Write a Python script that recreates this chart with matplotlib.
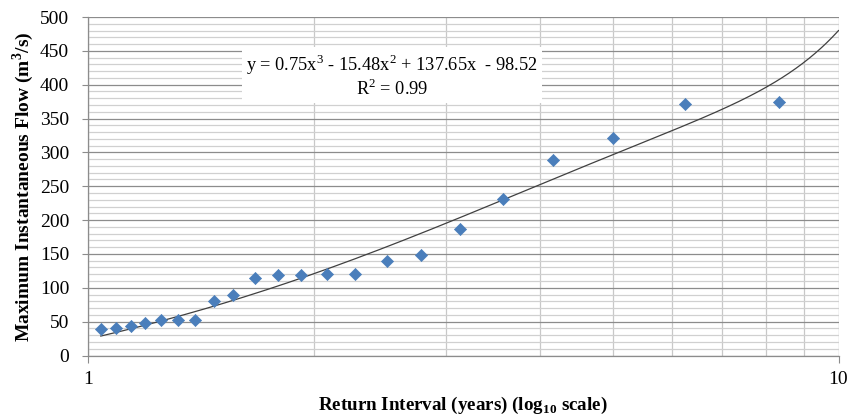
import matplotlib
matplotlib.use("Agg")
import matplotlib.pyplot as plt
from matplotlib.ticker import MultipleLocator, NullFormatter, FixedLocator, FixedFormatter
import numpy as np

# Data
return_interval = [1.04, 1.09, 1.14, 1.19, 1.25, 1.32, 1.39, 1.47, 1.56, 1.67, 1.79,
                   1.92, 2.08, 2.27, 2.50, 2.78, 3.13, 3.57, 4.17, 5.00, 6.25, 8.33]
max_flow = [39, 41, 43.5, 48, 52, 52, 52, 81, 90, 115, 119,
            119, 121, 121, 140, 148, 187, 231, 289, 321, 372, 374]

# Trendline coefficients as shown on the chart
coef = [0.75, -15.48, 137.65, -98.52]
eq_text = "y = 0.75x$^3$ - 15.48x$^2$ + 137.65x  - 98.52"
r2_text = "R$^2$ = 0.99"

plt.rcParams['font.family'] = ['Liberation Serif', 'DejaVu Serif']
plt.rcParams['mathtext.fontset'] = 'custom'
plt.rcParams['mathtext.rm'] = 'Liberation Serif'
plt.rcParams['mathtext.bf'] = 'Liberation Serif:bold'

fig = plt.figure(figsize=(8.51, 4.17), dpi=100)
ax = fig.add_axes([88/851, 1 - 355.5/417, (838.5 - 88)/851, (355.5 - 17)/417])

ax.set_xscale('log')
ax.set_xlim(1, 10)
ax.set_ylim(0, 500)

# gridlines
ax.yaxis.set_major_locator(MultipleLocator(50))
ax.yaxis.set_minor_locator(MultipleLocator(10))
ax.xaxis.set_major_locator(FixedLocator([1, 10]))
ax.xaxis.set_major_formatter(FixedFormatter(['1', '10']))
ax.xaxis.set_minor_locator(FixedLocator([2, 3, 4, 5, 6, 7, 8, 9]))
ax.xaxis.set_minor_formatter(NullFormatter())

ax.grid(which='major', axis='y', color='#8c8c8c', linewidth=0.9)
ax.grid(which='minor', axis='y', color='#d0d0d0', linewidth=0.9)
ax.grid(which='major', axis='x', color='#a0a0a0', linewidth=0.9)
ax.grid(which='minor', axis='x', color='#c8c8c8', linewidth=0.9)
ax.set_axisbelow(True)

for s in ['top', 'right']:
    ax.spines[s].set_visible(False)
for s in ['left', 'bottom']:
    ax.spines[s].set_color('#8c8c8c')
    ax.spines[s].set_linewidth(0.9)

ax.tick_params(axis='y', which='major', length=4.5, color='#8c8c8c', labelsize=14, pad=9)
ax.tick_params(axis='y', which='minor', length=0)
ax.tick_params(axis='x', which='major', length=5, color='#8c8c8c', labelsize=14, pad=6)
ax.tick_params(axis='x', which='minor', length=0)

# trendline
xt = np.linspace(return_interval[0], 10, 300)
yt = np.polyval(coef, xt)
ax.plot(xt, yt, color='#404040', linewidth=0.9, zorder=3)

# points
ax.scatter(return_interval, max_flow, marker='D', s=38, color='#4A7EBB',
           edgecolors='#4A7EBB', linewidths=0.5, zorder=4)

# equation box
ax.text(392/851, 1 - 76/417, eq_text + "\n" + r2_text, transform=fig.transFigure,
        ha='center', va='center', fontsize=13.2, linespacing=1.1, multialignment='center',
        bbox=dict(boxstyle='square,pad=0.25', facecolor='white', edgecolor='none'), zorder=5)

ax.set_ylabel("Maximum Instantaneous Flow (m$^\\mathbf{3}$/s)", fontsize=14,
              fontweight='bold', labelpad=3)
ax.set_xlabel("Return Interval (years) (log$_\\mathbf{10}$ scale)", fontsize=13.7,
              fontweight='bold', labelpad=5)

fig.savefig("out.png", dpi=100)
